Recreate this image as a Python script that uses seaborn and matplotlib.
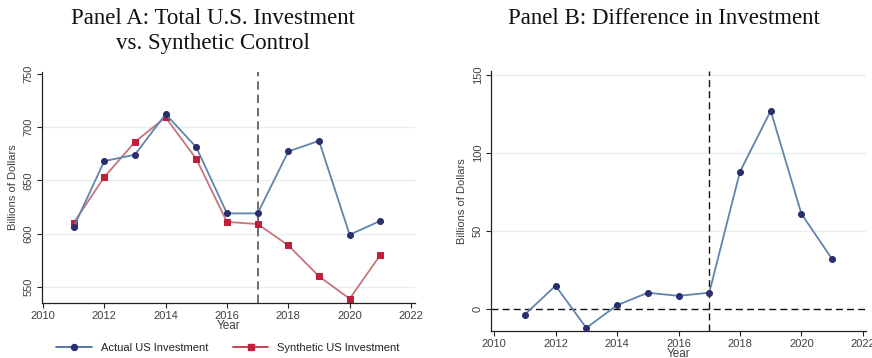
import matplotlib
matplotlib.use("Agg")
import matplotlib.pyplot as plt
from matplotlib.lines import Line2D
import numpy as np
import pandas as pd
import seaborn as sns

sns.set_theme(style="white")
plt.rcParams["font.family"] = ["Liberation Sans", "DejaVu Sans"]

years = [2011, 2012, 2013, 2014, 2015, 2016, 2017, 2018, 2019, 2020, 2021]
actual = [606, 668, 674, 712, 681, 619, 619, 677, 687, 599, 612]
synthetic = [610, 653, 686, 709, 670, 611, 609, 589, 560, 539, 580]
difference = [-3.5, 15, -12, 2.5, 10.5, 8.5, 10.5, 88, 127, 61, 32]

treat_year = 2017
x_ticks = [2010, 2012, 2014, 2016, 2018, 2020, 2022]
a_ticks = [550, 600, 650, 700, 750]
b_ticks = [0, 50, 100, 150]

navy = "#2c2f6e"
blue_line = "#5f84ad"
crimson = "#c01f3c"
red_line = "#c9747d"
grid_c = "#e6f0f2"
tick_c = "#404040"

df_a = pd.DataFrame({"Year": years * 2,
                     "Value": actual + synthetic,
                     "Series": ["Actual US Investment"] * len(years)
                     + ["Synthetic US Investment"] * len(years)})
df_b = pd.DataFrame({"Year": years, "Value": difference})

fig = plt.figure(figsize=(8.72, 3.58), dpi=100)
W, H = 872, 358


def add_axes(left, top, right, bottom):
    return fig.add_axes([left / W, 1 - bottom / H, (right - left) / W, (bottom - top) / H])


ax_a = add_axes(42, 72, 415, 303)
ax_b = add_axes(491, 71, 866, 331)


def style(ax, yticks):
    for s in ["top", "right"]:
        ax.spines[s].set_visible(False)
    for s in ["left", "bottom"]:
        ax.spines[s].set_color("#222222")
        ax.spines[s].set_linewidth(0.9)
    ax.set_xticks(x_ticks)
    ax.set_yticks(yticks)
    ax.tick_params(axis="both", direction="out", length=3.5, width=0.8,
                   color="#222222", labelsize=8, labelcolor=tick_c, pad=2.5,
                   left=True, bottom=True)
    for lab in ax.get_yticklabels():
        lab.set_rotation(90)
        lab.set_va("center")
    ax.set_xlabel("Year", fontsize=8.5, color=tick_c, labelpad=-1)
    ax.set_ylabel("Billions of Dollars", fontsize=8, color=tick_c, labelpad=4)
    ax.set_axisbelow(True)


# Panel A: actual vs synthetic
for ys in [550, 600, 650, 700]:
    ax_a.axhline(ys, color=grid_c, lw=1.0, zorder=0)
sns.lineplot(data=df_a[df_a.Series == "Actual US Investment"], x="Year", y="Value",
             ax=ax_a, color=blue_line, lw=1.3, marker="o", markersize=4.3,
             markerfacecolor=navy, markeredgecolor=navy, zorder=3, legend=False)
sns.lineplot(data=df_a[df_a.Series == "Synthetic US Investment"], x="Year", y="Value",
             ax=ax_a, color=red_line, lw=1.3, marker="s", markersize=4.3,
             markerfacecolor=crimson, markeredgecolor=crimson, zorder=2, legend=False)
ax_a.axvline(treat_year, color="#555555", lw=1.2, ls=(0, (5, 3)), zorder=1)
ax_a.set_xlim(2009.97, 2022.13)
ax_a.set_ylim(535, 751.5)
style(ax_a, a_ticks)

# Panel B: difference
for ys in [50, 100, 150]:
    ax_b.axhline(ys, color=grid_c, lw=1.0, zorder=0)
ax_b.axhline(0, color="#111111", lw=1.0, ls=(0, (5, 3)), zorder=1)
ax_b.axvline(treat_year, color="#111111", lw=1.0, ls=(0, (5, 3)), zorder=1)
sns.lineplot(data=df_b, x="Year", y="Value", ax=ax_b, color=blue_line, lw=1.3,
             marker="o", markersize=4.3, markerfacecolor=navy, markeredgecolor=navy,
             zorder=3, legend=False)
ax_b.set_xlim(2009.9, 2022.1)
ax_b.set_ylim(-14, 152.5)
style(ax_b, b_ticks)

# Legend under panel A
handles = [
    Line2D([0], [0], color="#4a6d9c", lw=1.3, marker="o", markersize=4.3,
           markerfacecolor=navy, markeredgecolor=navy),
    Line2D([0], [0], color="#c53446", lw=1.3, marker="s", markersize=4.3,
           markerfacecolor=crimson, markeredgecolor=crimson),
]
fig.legend(handles, ["Actual US Investment", "Synthetic US Investment"],
           loc="center", bbox_to_anchor=(228 / W, 1 - 348 / H), ncol=2,
           frameon=False, fontsize=8, handlelength=3.2, columnspacing=2.2,
           handletextpad=0.8, labelcolor="#222222")

# Panel titles
title_font = dict(family=["Liberation Serif", "DejaVu Serif"], fontsize=16.5,
                  color="#111111", ha="center", va="center")
fig.text(213 / W, 1 - 18 / H, "Panel A: Total U.S. Investment", **title_font)
fig.text(213 / W, 1 - 44 / H, "vs. Synthetic Control", **title_font)
fig.text(664 / W, 1 - 18 / H, "Panel B: Difference in Investment", **title_font)

fig.savefig("out.png", dpi=100)
